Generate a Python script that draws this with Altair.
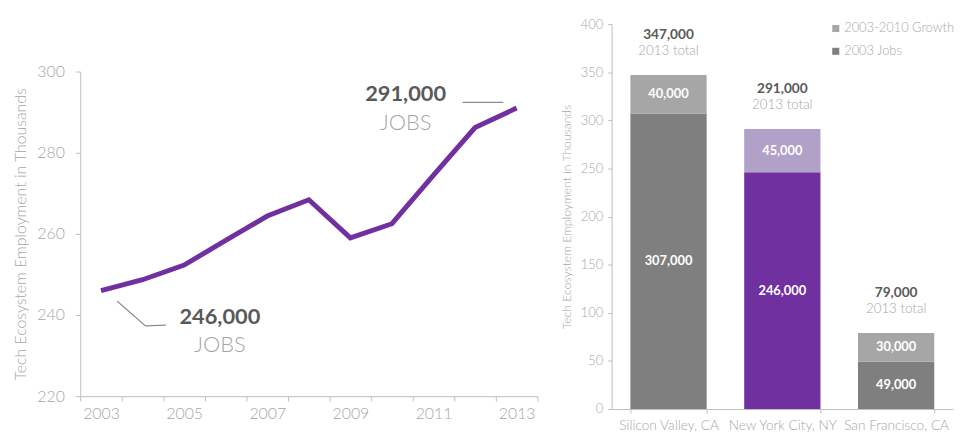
import altair as alt
import pandas as pd

# ---------------- left chart data ----------------
years = list(range(2003, 2014))
jobs_k = [246.0, 248.7, 252.3, 258.4, 264.4, 268.4, 259.0, 262.5, 274.5, 286.2, 291.0]

ann_text = ["291,000", "JOBS", "246,000", "JOBS"]
ann_x = [2010.33, 2010.33, 2005.86, 2005.86]
ann_y = [294.4, 287.3, 239.6, 232.5]
ann_bold = [True, False, True, False]

conn_group = ["top", "top", "low", "low", "low"]
conn_x = [2011.70, 2012.68, 2003.39, 2004.07, 2004.56]
conn_y = [292.4, 292.4, 243.4, 237.3, 237.5]
conn_order = [0, 1, 0, 1, 2]

# ---------------- right chart data ----------------
cities = ["Silicon Valley, CA", "New York City, NY", "San Francisco, CA"]
jobs_2003 = [307, 246, 49]
growth = [40, 45, 30]
totals = [347, 291, 79]
series_names = ["2003-2010 Growth", "2003 Jobs"]

FONT = "Lato"
GRAY_TXT = "#a6a6a6"
AXIS_COL = "#bfbfbf"
DARK_TXT = "#595959"
PURPLE = "#7030a0"

line_df = pd.DataFrame({"year": years, "jobs": jobs_k})
ann_df = pd.DataFrame({"x": ann_x, "y": ann_y, "t": ann_text, "bold": ann_bold})
conn_df = pd.DataFrame({"g": conn_group, "x": conn_x, "y": conn_y, "o": conn_order})

LEFT_TITLE = "Tech Ecosystem Employment in Thousands"
yscale_left = alt.Scale(domain=[220, 300], nice=False, zero=False)
xq = alt.X("x:Q", scale=alt.Scale(domain=[2002.5, 2013.5], nice=False, zero=False), axis=None)
yq = alt.Y("y:Q", scale=yscale_left, title=LEFT_TITLE)

line = alt.Chart(line_df).mark_line(color=PURPLE, strokeWidth=5).encode(
    x=alt.X("year:O", bandPosition=0.5,
            scale=alt.Scale(type="band", paddingInner=0, paddingOuter=0),
            axis=alt.Axis(title=None, labelAngle=0, tickBand="extent",
                          labelExpr="datum.value % 2 == 1 ? datum.label : ''",
                          labelFont=FONT, labelFontSize=16, labelColor=GRAY_TXT,
                          labelFontWeight=300, labelPadding=5,
                          domainColor=AXIS_COL, tickColor=AXIS_COL, tickSize=5)),
    y=alt.Y("jobs:Q", scale=yscale_left,
            axis=alt.Axis(values=[220, 240, 260, 280, 300], grid=False, title=LEFT_TITLE,
                          labelFont=FONT, labelFontSize=16, labelColor=GRAY_TXT,
                          labelFontWeight=300, labelPadding=11,
                          titleFont=FONT, titleFontSize=16, titleColor=GRAY_TXT,
                          titleFontWeight=300, titlePadding=8,
                          domainColor=AXIS_COL, tickColor=AXIS_COL, tickSize=5)),
)

conn = alt.Chart(conn_df).mark_line(color="#8c8c8c", strokeWidth=1.2).encode(
    x=xq, y=yq, detail="g:N", order="o:Q")

ann_bold_l = alt.Chart(ann_df).transform_filter("datum.bold").mark_text(
    font=FONT, fontSize=22, fontWeight="bold", color=DARK_TXT, baseline="middle", align="center"
).encode(x=xq, y=yq, text="t:N")
ann_light_l = alt.Chart(ann_df).transform_filter("!datum.bold").mark_text(
    font=FONT, fontSize=22, fontWeight=300, color=GRAY_TXT, baseline="middle", align="center"
).encode(x=xq, y=yq, text="t:N")

left = alt.layer(line, conn, ann_bold_l, ann_light_l).resolve_scale(x="independent").properties(
    width=462, height=328)

spacer = alt.Chart(pd.DataFrame({"v": [0]})).mark_point(opacity=0).properties(width=462, height=40)
left_col = alt.vconcat(spacer, left, spacing=0)

# ---------------- right chart ----------------
rows = []
for c, j, g, t in zip(cities, jobs_2003, growth, totals):
    rows.append({"city": c, "series": "2003 Jobs", "start": 0, "end": j,
                 "mid": j / 2, "lab": f"{j * 1000:,}", "total": t})
    rows.append({"city": c, "series": "2003-2010 Growth", "start": j, "end": j + g,
                 "mid": j + g / 2, "lab": f"{g * 1000:,}", "total": t})
bar_df = pd.DataFrame(rows)
tot_df = pd.DataFrame({"city": cities, "total": totals,
                       "lab": [f"{t * 1000:,}" for t in totals]})

RIGHT_TITLE = "Tech Ecosystem Employment in Thousands"
yscale_r = alt.Scale(domain=[0, 400], nice=False)
xr = alt.X("city:N", sort=cities,
           scale=alt.Scale(paddingInner=0.33, paddingOuter=0.165),
           axis=alt.Axis(title=None, labelAngle=0, tickBand="extent",
                         labelFont=FONT, labelFontSize=13.8, labelColor=GRAY_TXT,
                         labelFontWeight=300, labelPadding=6,
                         domainColor=AXIS_COL, tickColor=AXIS_COL, tickSize=4))
yr_axis = alt.Axis(values=list(range(0, 401, 50)), grid=False, title=RIGHT_TITLE,
                   labelFont=FONT, labelFontSize=13, labelColor=GRAY_TXT,
                   labelFontWeight=300, labelPadding=5,
                   titleFont=FONT, titleFontSize=12.3, titleColor=GRAY_TXT,
                   titleFontWeight=300, titlePadding=7,
                   domainColor=AXIS_COL, tickColor=AXIS_COL, tickSize=4)

bars_gray = alt.Chart(bar_df).transform_filter(
    f"datum.city != '{cities[1]}'").mark_bar().encode(
    x=xr,
    y=alt.Y("start:Q", scale=yscale_r, axis=yr_axis, title=RIGHT_TITLE),
    y2="end:Q",
    color=alt.Color("series:N",
                    scale=alt.Scale(domain=series_names, range=["#a6a6a6", "#7f7f7f"]),
                    legend=alt.Legend(orient="none", legendX=757, legendY=-2, title=None,
                                      symbolType="square", symbolSize=50, symbolStrokeWidth=0,
                                      labelFont=FONT, labelFontSize=13, labelColor=GRAY_TXT,
                                      labelFontWeight=300, labelOffset=2, rowPadding=9)),
)
bars_nyc = alt.Chart(bar_df).transform_filter(
    f"datum.city == '{cities[1]}'").mark_bar().encode(
    x=xr,
    y=alt.Y("start:Q", scale=yscale_r, title=RIGHT_TITLE),
    y2="end:Q",
    color=alt.condition("datum.series == '2003 Jobs'", alt.value(PURPLE), alt.value("#b1a0c7")),
)
inner = alt.Chart(bar_df).mark_text(font=FONT, fontSize=13, fontWeight="bold", color="white",
                                    baseline="middle").encode(
    x=xr, y=alt.Y("mid:Q", scale=yscale_r, title=RIGHT_TITLE), text="lab:N")
tot_lab = alt.Chart(tot_df).mark_text(font=FONT, fontSize=13.8, fontWeight="bold", color=DARK_TXT,
                                      baseline="middle", dy=-40).encode(
    x=xr, y=alt.Y("total:Q", scale=yscale_r, title=RIGHT_TITLE), text="lab:N")
tot_sub = alt.Chart(tot_df).mark_text(font=FONT, fontSize=13.5, fontWeight=300, color=GRAY_TXT,
                                      baseline="middle", dy=-24).encode(
    x=xr, y=alt.Y("total:Q", scale=yscale_r, title=RIGHT_TITLE), text=alt.value("2013 total"))

right = alt.layer(bars_gray, bars_nyc, inner, tot_lab, tot_sub).properties(width=345, height=389)

chart = alt.hconcat(left_col, right, spacing=22).properties(
    padding={"left": 5, "top": 8, "right": 0, "bottom": 0}
).configure_view(stroke=None)

chart.save("out.html", embed_options={"renderer": "svg", "actions": False})
